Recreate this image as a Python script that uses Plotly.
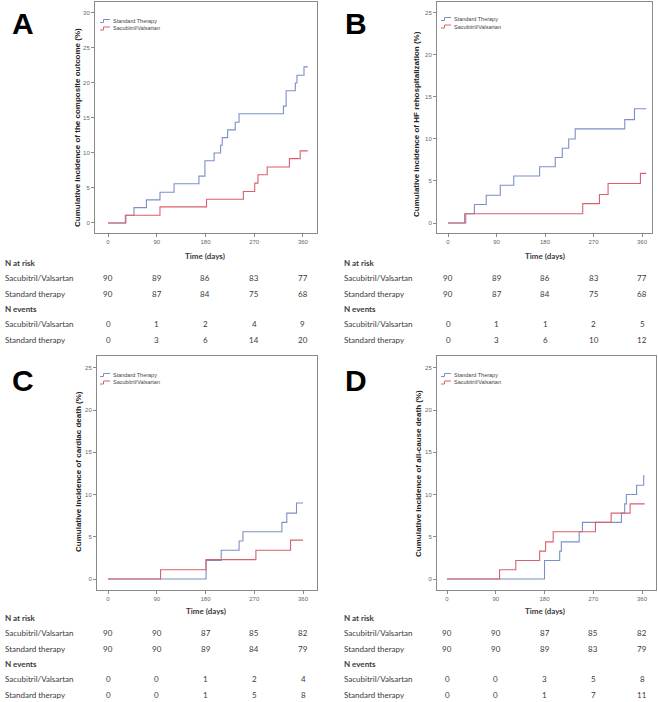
import plotly.graph_objects as go

W, H = 658, 702

# ---------------- data ----------------
time_ticks = [0, 90, 180, 270, 360]
series_names = ["Standard Therapy", "Sacubitril/Valsartan"]
row_labels = ["Sacubitril/Valsartan", "Standard therapy"]

# Panel A: composite outcome
A_std_days = [0, 32, 48, 71, 96, 122, 168, 179, 196, 208, 211, 221, 235, 242, 324, 329, 346, 349, 362, 369]
A_std_pct = [0, 1.1, 2.2, 3.3, 4.4, 5.6, 6.7, 8.9, 10.0, 11.1, 12.2, 13.3, 14.4, 15.6, 16.7, 18.9, 20.0, 21.1, 22.3, 22.3]
A_sac_days = [0, 33, 96, 182, 250, 271, 277, 294, 335, 355, 369]
A_sac_pct = [0, 1.1, 2.3, 3.4, 4.5, 5.7, 6.9, 8.0, 9.2, 10.3, 10.3]
A_risk_sac = [90, 89, 86, 83, 77]
A_risk_std = [90, 87, 84, 75, 68]
A_ev_sac = [0, 1, 2, 4, 9]
A_ev_std = [0, 3, 6, 14, 20]

# Panel B: HF rehospitalization
B_std_days = [0, 33, 49, 71, 97, 122, 170, 199, 212, 224, 236, 328, 346, 368]
B_std_pct = [0, 1.1, 2.2, 3.3, 4.5, 5.6, 6.7, 7.8, 8.9, 10.0, 11.2, 12.3, 13.6, 13.6]
B_sac_days = [0, 31, 250, 281, 297, 357, 368]
B_sac_pct = [0, 1.1, 2.3, 3.4, 4.7, 5.9, 5.9]
B_risk_sac = [90, 89, 86, 83, 77]
B_risk_std = [90, 87, 84, 75, 68]
B_ev_sac = [0, 1, 1, 2, 5]
B_ev_std = [0, 3, 6, 10, 12]

# Panel C: cardiac death
C_std_days = [0, 181, 209, 242, 249, 321, 330, 348, 360]
C_std_pct = [0, 2.2, 3.4, 4.5, 5.6, 6.7, 7.8, 9.0, 9.0]
C_sac_days = [0, 97, 181, 273, 337, 360]
C_sac_pct = [0, 1.1, 2.3, 3.4, 4.6, 4.6]
C_risk_sac = [90, 90, 87, 85, 82]
C_risk_std = [90, 90, 89, 84, 79]
C_ev_sac = [0, 0, 1, 2, 4]
C_ev_std = [0, 0, 1, 5, 8]

# Panel D: all-cause death
D_std_days = [0, 180, 208, 211, 244, 250, 322, 328, 331, 350, 363, 365]
D_std_pct = [0, 2.2, 3.3, 4.4, 5.6, 6.7, 7.8, 8.9, 10.0, 11.1, 12.2, 12.2]
D_sac_days = [0, 97, 127, 171, 182, 196, 274, 303, 338, 365]
D_sac_pct = [0, 1.1, 2.2, 3.3, 4.4, 5.6, 6.7, 7.8, 8.9, 8.9]
D_risk_sac = [90, 90, 87, 85, 82]
D_risk_std = [90, 90, 89, 83, 79]
D_ev_sac = [0, 0, 3, 5, 8]
D_ev_std = [0, 0, 1, 7, 11]

y_titles = {
    "A": "Cumulative incidence of the composite outcome (%)",
    "B": "Cumulative incidence of HF rehospitalization (%)",
    "C": "Cumulative incidence of cardiac death (%)",
    "D": "Cumulative incidence of all-cause death (%)",
}

# ---------------- styling / layout ----------------
BLUE = "#7d8fc6"
RED = "#d9606c"
FRAME = "#8a8a8a"
TXT = "#3a3a3a"


def px(x):
    return x / W


def py(y):
    return 1 - y / H


panels = {
    "A": dict(frame=(95, 2, 317, 233), xr=[-24, 386], yr=[-1.43, 31.57], ymax=30,
              std=(A_std_days, A_std_pct), sac=(A_sac_days, A_sac_pct),
              table=(A_risk_sac, A_risk_std, A_ev_sac, A_ev_std),
              letter=(23, 24), ytitle=(78, 128), top_table=True, leg=(100, 21)),
    "B": dict(frame=(437, 2, 652, 233), xr=[-20.4, 378.5], yr=[-1.19, 26.3], ymax=25,
              std=(B_std_days, B_std_pct), sac=(B_sac_days, B_sac_pct),
              table=(B_risk_sac, B_risk_std, B_ev_sac, B_ev_std),
              letter=(356, 24), ytitle=(417, 124), top_table=True, leg=(441, 19)),
    "C": dict(frame=(97, 356, 317, 590), xr=[-20.3, 385.8], yr=[-1.3, 26.4], ymax=25,
              std=(C_std_days, C_std_pct), sac=(C_sac_days, C_sac_pct),
              table=(C_risk_sac, C_risk_std, C_ev_sac, C_ev_std),
              letter=(23, 380), ytitle=(78, 472), top_table=False, leg=(100, 375)),
    "D": dict(frame=(437, 356, 656, 590), xr=[-18.5, 385.8], yr=[-1.3, 26.4], ymax=25,
              std=(D_std_days, D_std_pct), sac=(D_sac_days, D_sac_pct),
              table=(D_risk_sac, D_risk_std, D_ev_sac, D_ev_std),
              letter=(356, 380), ytitle=(418, 473), top_table=False, leg=(441, 375)),
}

fig = go.Figure()
annotations = []
shapes = []
layout_axes = {}

for i, (key, p) in enumerate(panels.items()):
    n = "" if i == 0 else str(i + 1)
    xa, ya = "x" + n, "y" + n
    l, t, r, b = p["frame"]
    layout_axes["xaxis" + n] = dict(
        domain=[px(l), px(r)], range=p["xr"], anchor=ya,
        tickvals=time_ticks, ticks="outside", ticklen=3, tickcolor=FRAME,
        showline=True, mirror=True, linecolor=FRAME, linewidth=1,
        showgrid=False, zeroline=False, fixedrange=True,
        tickfont=dict(size=6, color="#666", family="Liberation Sans"),
    )
    layout_axes["yaxis" + n] = dict(
        domain=[py(b), py(t)], range=p["yr"], anchor=xa,
        tickvals=list(range(0, p["ymax"] + 1, 5)), ticks="outside", ticklen=3, tickcolor=FRAME,
        showline=True, mirror=True, linecolor=FRAME, linewidth=1,
        showgrid=False, zeroline=False, fixedrange=True,
        tickfont=dict(size=6, color="#666", family="Liberation Sans"),
    )
    for (days, pct), color, name in [(p["std"], BLUE, series_names[0]), (p["sac"], RED, series_names[1])]:
        fig.add_trace(go.Scatter(x=days, y=pct, mode="lines", line=dict(color=color, width=1.1, shape="hv"),
                                 name=name, xaxis=xa, yaxis=ya, showlegend=False, hoverinfo="skip"))

    lx, ly = p["letter"]
    annotations.append(dict(text="<b>%s</b>" % key, x=px(lx), y=py(ly), xref="paper", yref="paper",
                            showarrow=False, xanchor="center", yanchor="middle",
                            font=dict(size=30, color="black", family="Liberation Sans")))
    tx, ty = p["ytitle"]
    annotations.append(dict(text="<b>%s</b>" % y_titles[key], x=px(tx), y=py(ty), xref="paper", yref="paper",
                            showarrow=False, textangle=-90, xanchor="center", yanchor="middle",
                            font=dict(size=8, color="#222", family="Liberation Sans")))
    gx, gy = p["leg"]
    for k, (name, color) in enumerate(zip(series_names, [BLUE, RED])):
        yy = gy + k * 7.5
        shapes.append(dict(type="path", xref="paper", yref="paper",
                           path="M %f %f L %f %f L %f %f L %f %f" % (
                               px(gx), py(yy + 1.5), px(gx + 3.5), py(yy + 1.5),
                               px(gx + 3.5), py(yy - 1.5), px(gx + 10), py(yy - 1.5)),
                           line=dict(color=color, width=1)))
        annotations.append(dict(text=name, x=px(gx + 10.5), y=py(yy), xref="paper", yref="paper",
                                showarrow=False, xanchor="left", yanchor="middle",
                                font=dict(size=5.5, color="#444", family="Liberation Sans")))

    base = 256 if p["top_table"] else 611
    annotations.append(dict(text="<b>Time (days)</b>", x=180, y=py(base), xref=xa, yref="paper",
                            showarrow=False, xanchor="center", yanchor="middle",
                            font=dict(size=8, color=TXT, family="Lato")))
    label_x = 3 if key in ("A", "C") else 342
    rows = [("<b>N at risk</b>", None), (row_labels[0], p["table"][0]), (row_labels[1], p["table"][1]),
            ("<b>N events</b>", None), (row_labels[0], p["table"][2]), (row_labels[1], p["table"][3])]
    for j, (lab, vals) in enumerate(rows):
        yy = base + 7 + j * 15.3
        annotations.append(dict(text=lab, x=px(label_x), y=py(yy), xref="paper", yref="paper",
                                showarrow=False, xanchor="left", yanchor="middle",
                                font=dict(size=8, color=TXT, family="Lato")))
        if vals is not None:
            for d, v in zip(time_ticks, vals):
                annotations.append(dict(text=str(v), x=d, y=py(yy), xref=xa, yref="paper",
                                        showarrow=False, xanchor="center", yanchor="middle",
                                        font=dict(size=8, color=TXT, family="Lato")))

fig.update_layout(
    width=W, height=H, margin=dict(l=0, r=0, t=0, b=0),
    paper_bgcolor="white", plot_bgcolor="white",
    showlegend=False, annotations=annotations, shapes=shapes,
    **layout_axes,
)

fig.write_html("out.html", config={"displayModeBar": False},
               post_script="document.body.style.margin='0';document.body.style.overflow='hidden';")
